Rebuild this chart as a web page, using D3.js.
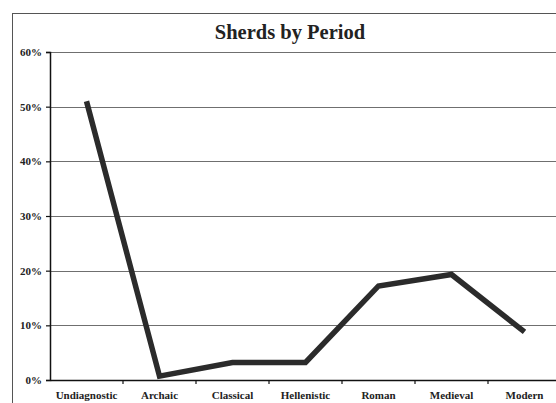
<!DOCTYPE html>
<html><head><meta charset="utf-8">
<script src="https://cdn.jsdelivr.net/npm/d3@7"></script>
<style>
html,body{margin:0;padding:0;background:#fff;overflow:hidden}
svg{display:block}
</style></head>
<body>
<svg id="chart" width="556" height="403"></svg>
<script>
const categories = ["Undiagnostic","Archaic","Classical","Hellenistic","Roman","Medieval","Modern"];
const values = [0.51, 0.007, 0.032, 0.032, 0.172, 0.193, 0.088];
const yTicks = [0, 0.1, 0.2, 0.3, 0.4, 0.5, 0.6];
const title = "Sherds by Period";

(function () {
const svg = d3.select("#chart");
const W = 556, H = 403;
const mLeft = 50, mTop = 52, mBottom = 380, mRight = 561;
const serif = "'Liberation Serif','Times New Roman',serif";

// outer frame
svg.append("rect").attr("x", 12.5).attr("y", 13.5).attr("width", 600).attr("height", 500)
  .attr("fill", "none").attr("stroke", "#555").attr("stroke-width", 1);

const x = d3.scaleBand().domain(categories).range([mLeft, mRight]).paddingInner(0).paddingOuter(0);
const y = d3.scaleLinear().domain([0, 0.6]).range([mBottom, mTop]);

// gridlines
svg.append("g").selectAll("line").data(yTicks.filter(d => d > 0)).join("line")
  .attr("x1", mLeft).attr("x2", W + 10)
  .attr("y1", d => Math.round(y(d)) + 0.5).attr("y2", d => Math.round(y(d)) + 0.5)
  .attr("stroke", "#6f6f6f").attr("stroke-width", 1.2);

// y axis
const yAxis = d3.axisLeft(y).tickValues(yTicks).tickFormat(d3.format(".0%")).tickSize(4).tickPadding(4);
const gy = svg.append("g").attr("transform", `translate(${mLeft},0)`).call(yAxis);
gy.select(".domain").attr("stroke", "#111").attr("stroke-width", 1.5);
gy.selectAll(".tick line").attr("stroke", "#111").attr("stroke-width", 1.2);
gy.selectAll(".tick text").attr("font-family", serif).attr("font-weight", "bold")
  .attr("font-size", 11).attr("fill", "#222");

// x axis
const xAxis = d3.axisBottom(x).tickSize(0).tickPadding(11);
const gx = svg.append("g").attr("transform", `translate(0,${mBottom})`).call(xAxis);
gx.select(".domain").attr("stroke", "#111").attr("stroke-width", 1.5);
gx.selectAll(".tick text").attr("font-family", serif).attr("font-weight", "bold")
  .attr("font-size", 11).attr("fill", "#222");
gx.append("g").selectAll("line").data(categories.slice(1)).join("line")
  .attr("x1", d => x(d)).attr("x2", d => x(d)).attr("y1", 0).attr("y2", 4)
  .attr("stroke", "#111").attr("stroke-width", 1.2);

// line
const line = d3.line().x((d, i) => x(categories[i]) + x.bandwidth() / 2).y(d => y(d));
svg.append("path").datum(values).attr("d", line)
  .attr("fill", "none").attr("stroke", "#2b2b2b").attr("stroke-width", 5.5)
  .attr("stroke-linejoin", "miter").attr("stroke-linecap", "butt");

// title
svg.append("text").attr("x", 290).attr("y", 39).attr("text-anchor", "middle")
  .attr("font-family", serif).attr("font-weight", "bold").attr("font-size", 20.5)
  .attr("fill", "#222").text(title);
})();
</script>
</body></html>
